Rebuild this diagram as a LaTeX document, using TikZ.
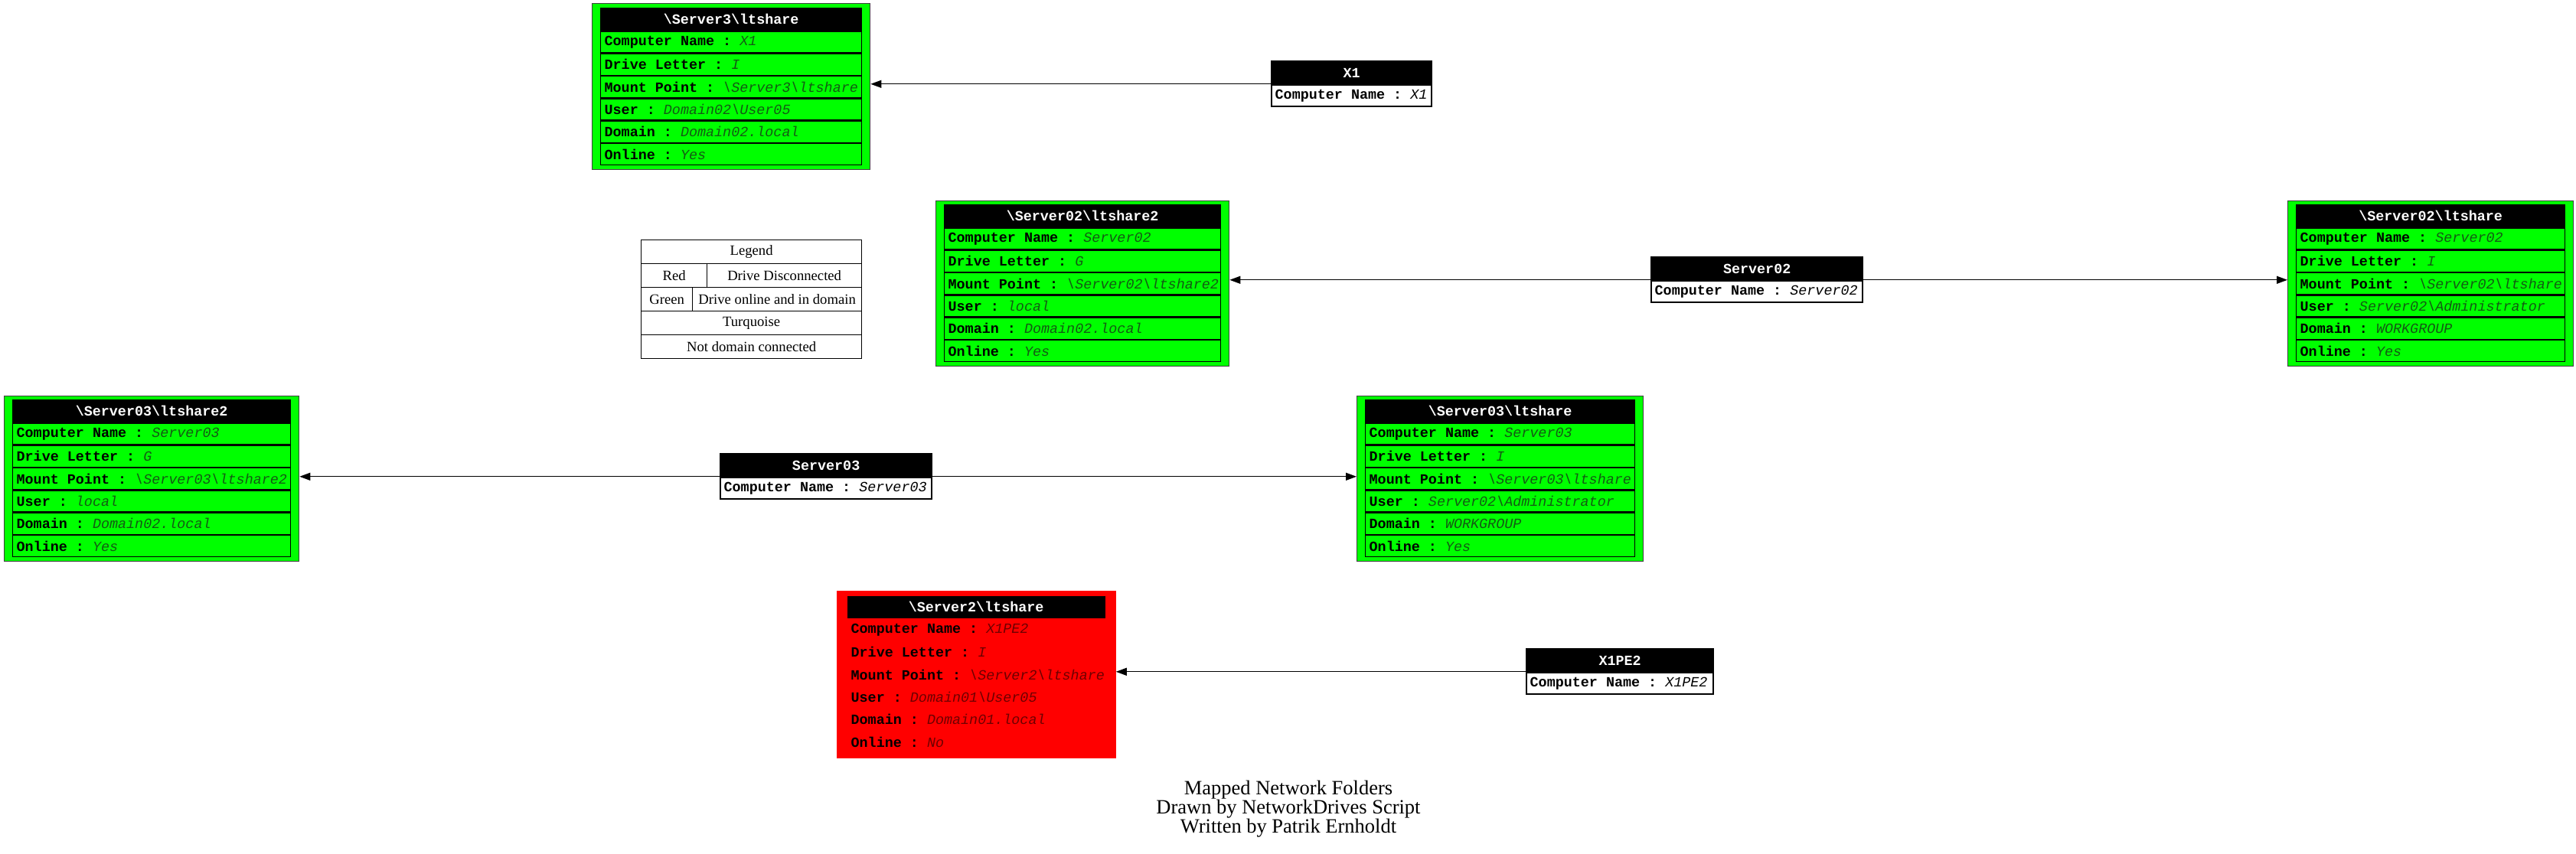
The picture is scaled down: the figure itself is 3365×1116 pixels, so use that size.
\documentclass[tikz,border=0pt]{standalone}
\usepackage{fontspec}
\setmainfont{Liberation Serif}
\newfontfamily\drivefont{Liberation Mono}
\usetikzlibrary{positioning,fit,backgrounds,arrows.meta}
\definecolor{drivegreen}{HTML}{00FF00}
\definecolor{drivered}{HTML}{FF0000}
\definecolor{greenvalue}{HTML}{145A14}
\definecolor{redvalue}{HTML}{6E0000}
\colorlet{valuecol}{black}
\newcommand\bs{\textbackslash}
% fixed mono space, one character wide
\newcommand\msp{\hspace*{0.6em}}
\newcommand\drivefield[2]{\mbox{\textbf{#1\msp:}\msp\textcolor{valuecol}{\textit{#2}}}}

\begin{document}
\begin{tikzpicture}
        [x=1pt,y=-1pt,
        monotext/.style={font={\drivefont\fontsize{18.4pt}{21pt}\selectfont}},
        drivehead/.style={fill=black,text=white,minimum height=29pt,inner sep=0pt,line width=1.3pt,
          font={\drivefont\bfseries\fontsize{18.4pt}{21pt}\selectfont}},
        driverow/.style={monotext,minimum height=28pt,inner xsep=5pt,inner ysep=0pt,line width=1.3pt},
        green-head/.style={drivehead,draw=black},
        red-head/.style={drivehead},
        green-row/.style={driverow,draw=black},
        red-row/.style={driverow},
        green-box/.style={fill=drivegreen,draw=black!75,line width=1pt,inner xsep=10.5pt,inner ysep=5pt},
        red-box/.style={fill=drivered,draw=drivered,line width=1pt,inner xsep=13pt,inner ysep=6pt},
        comphead/.style={drivehead,draw=black},
        comprow/.style={driverow,fill=white,draw=black,inner xsep=4pt},
        compbox/.style={draw=black,line width=1.3pt,inner sep=0pt},
        legendcell/.style={draw=black,line width=1.3pt,minimum height=31pt,inner sep=0pt,
          font=\fontsize{18.67pt}{22pt}\selectfont},
        credits/.style={align=center,font=\fontsize{26.5pt}{25pt}\selectfont},
        link/.style={-{Triangle[length=14pt,width=10pt]},line width=1.3pt}]
        \useasboundingbox (0,0) rectangle (3365,1116);
        %% mapped drives
        \foreach \id/\x/\y/\w/\look/\share/\comp/\letter/\mount/\user/\domain/\online in {
          s3ltshare/784/10/341/green/\bs Server3\bs ltshare/X1/I/\bs Server3\bs ltshare/Domain02\bs User05/Domain02.local/Yes,
          s02ltshare2/1233/267/361/green/\bs Server02\bs ltshare2/Server02/G/\bs Server02\bs ltshare2/local/Domain02.local/Yes,
          s02ltshare/2999/267/351/green/\bs Server02\bs ltshare/Server02/I/\bs Server02\bs ltshare/Server02\bs Administrator/WORKGROUP/Yes,
          s03ltshare2/16/522/363/green/\bs Server03\bs ltshare2/Server03/G/\bs Server03\bs ltshare2/local/Domain02.local/Yes,
          s03ltshare/1783/522/352/green/\bs Server03\bs ltshare/Server03/I/\bs Server03\bs ltshare/Server02\bs Administrator/WORKGROUP/Yes,
          s2ltshare/1106/778/337/red/\bs Server2\bs ltshare/X1PE2/I/\bs Server2\bs ltshare/Domain01\bs User05/Domain01.local/No}
        {
          \pgfmathsetmacro\tw{\w-10}
          \colorlet{valuecol}{\look value}
          \node (\id-h) at (\x,\y) [\look-head,anchor=north west,minimum width=\w pt] {\share};
          \node (\id-1) [\look-row,text width=\tw pt,below=0pt of \id-h] {\drivefield{Computer\msp Name}{\comp}};
          \node (\id-2) [\look-row,text width=\tw pt,below=0pt of \id-1] {\drivefield{Drive\msp Letter}{\letter}};
          \node (\id-3) [\look-row,text width=\tw pt,below=0pt of \id-2] {\drivefield{Mount\msp Point}{\mount}};
          \node (\id-4) [\look-row,text width=\tw pt,below=0pt of \id-3] {\drivefield{User}{\user}};
          \node (\id-5) [\look-row,text width=\tw pt,below=0pt of \id-4] {\drivefield{Domain}{\domain}};
          \node (\id-6) [\look-row,text width=\tw pt,below=0pt of \id-5] {\drivefield{Online}{\online}};
          \begin{scope}[on background layer]
            \node (\id) [\look-box,fit=(\id-h)(\id-6)] {};
          \end{scope}
        }
        %% computers
        \foreach \id/\x/\y/\w/\comp in {x1/1661/80/208/X1, server02/2157/336/275/Server02,
          server03/941/593/275/Server03, x1pe2/1994/848/243/X1PE2}
        {
          \pgfmathsetmacro\tw{\w-8}
          \node (\id-h) at (\x,\y) [comphead,anchor=north west,minimum width=\w pt] {\comp};
          \node (\id-r) [comprow,text width=\tw pt,below=0pt of \id-h] {\drivefield{Computer\msp Name}{\comp}};
          \node (\id) [compbox,fit=(\id-h)(\id-r)] {};
        }
        %% legend
        \foreach \id/\x/\y/\w/\txt in {leg-title/837/313/288/Legend, leg-red/837/344/86/Red,
          leg-reddesc/923/344/202/Drive Disconnected, leg-green/837/375/67/Green,
          leg-greendesc/904/375/221/Drive online and in domain, leg-turq/837/406/288/Turquoise,
          leg-turqdesc/837/437/288/Not domain connected}
        {
          \node (\id) at (\x,\y) [legendcell,anchor=north west,minimum width=\w pt] {\txt};
        }
        \node (credits) at (1683,1057) [credits] {Mapped Network Folders\\Drawn by NetworkDrives Script\\Written by Patrik Ernholdt};
        %% edges
        \path
        \foreach \src/\dst/\side in {x1/s3ltshare/east, server02/s02ltshare2/east,
          server02/s02ltshare/west, server03/s03ltshare2/east, server03/s03ltshare/west,
          x1pe2/s2ltshare/east}
        {
          (\src) edge[link] (\src -| \dst.\side)
        };
      \end{tikzpicture}
\end{document}
